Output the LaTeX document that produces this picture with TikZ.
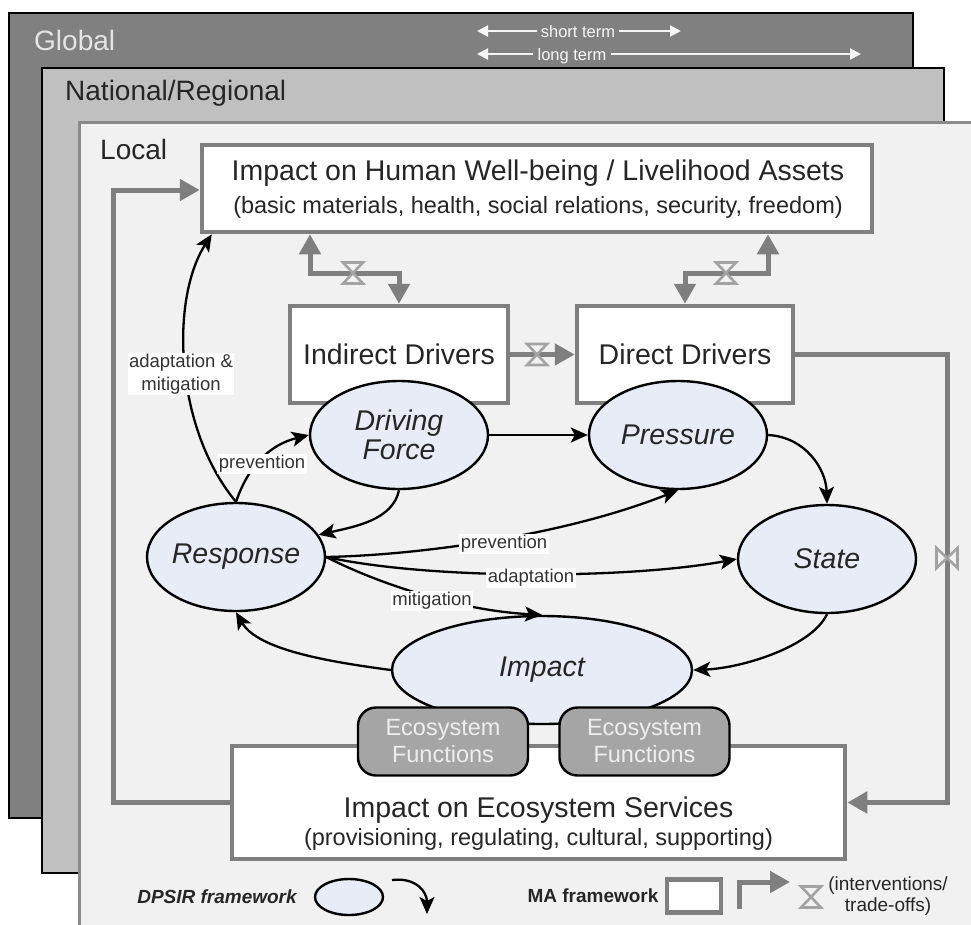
\documentclass[tikz,border=0pt]{standalone}
\usepackage{fontspec}
\setmainfont{Liberation Sans}
\usetikzlibrary{arrows.meta,shapes.geometric}

\definecolor{globalfill}{HTML}{808080}
\definecolor{globaltext}{HTML}{E4E4E4}
\definecolor{nationalfill}{HTML}{C0C0C0}
\definecolor{localfill}{HTML}{F1F1F1}
\definecolor{localedge}{HTML}{8A8A8A}
\definecolor{magray}{HTML}{7F7F7F}
\definecolor{hggray}{HTML}{A3A3A3}
\definecolor{ellfill}{HTML}{E7ECF6}
\definecolor{effill}{HTML}{A5A5A5}
\definecolor{eftext}{HTML}{EEEEEE}
\definecolor{termwhite}{HTML}{F6F6F6}
\definecolor{lbltext}{HTML}{333333}

\newcommand\FsFrame{\fontsize{28}{32}\selectfont}
\newcommand\FsBig{\fontsize{28.5}{34}\selectfont}
\newcommand\FsEll{\fontsize{28.5}{29.5}\selectfont}
\newcommand\FsSub{\fontsize{23.5}{28}\selectfont}
\newcommand\FsEF{\fontsize{23.5}{27}\selectfont}
\newcommand\FsLbl{\fontsize{18.5}{23}\selectfont}
\newcommand\FsLeg{\fontsize{19}{21}\selectfont}
\newcommand\FsTerm{\fontsize{16.5}{18}\selectfont}

\tikzset{
  txt/.style={inner sep=0pt},
  mabox/.style={rectangle, draw=magray, line width=4.5pt, fill=white, inner sep=0pt},
  dpsir/.style={ellipse, draw=black, line width=2.4pt, fill=ellfill, inner ysep=0pt,
    inner xsep=-6pt, minimum width=178pt, minimum height=108pt, font=\FsEll\itshape,
    align=center, text=black!85},
  efbox/.style={rectangle, rounded corners=18pt, draw=black, line width=2.4pt, fill=effill,
    text=eftext, minimum width=170pt, minimum height=68pt, align=center, inner sep=0pt,
    font=\FsEF},
  maline/.style={draw=magray, line width=5pt},
  maarrow/.style={maline, -{Triangle[length=20pt,width=21pt]}},
  mabi/.style={maline, {Triangle[length=20pt,width=21pt]}-{Triangle[length=20pt,width=21pt]}},
  dparrow/.style={draw=black, line width=2.3pt, -{Stealth[length=17pt,width=15pt,inset=4pt]}},
  lbl/.style={fill=white, inner xsep=1.5pt, inner ysep=1pt, font=\FsLbl, text=lbltext, align=center},
  termtext/.style={inner xsep=4pt, inner ysep=0pt, text height=12pt, text depth=0pt,
    text=termwhite, font=\FsTerm},
  termarrow/.style={draw=termwhite, line width=2pt, -{Triangle[length=11pt,width=11pt]}},
  hourglass/.pic={
    \filldraw[fill=localfill, draw=hggray, line width=2.6pt, line join=miter]
      (-10,-10.5) -- (10,-10.5) -- (-10,10.5) -- (10,10.5) -- cycle;
  },
}

\begin{document}
\begin{tikzpicture}[x=1pt,y=-1pt]
\useasboundingbox (0,0) rectangle (971,924);
\clip (0,0) rectangle (971,924);
\fill[white] (0,0) rectangle (971,924);

% nested scale frames
\filldraw[fill=globalfill, draw=black, line width=2pt] (9,13) rectangle (913,818);
\filldraw[fill=nationalfill, draw=black, line width=2pt] (42,68) rectangle (944,873);
\filldraw[fill=localfill, draw=localedge, line width=3pt] (79,122) rectangle (1000,960);

\node[txt, anchor=base west, text=globaltext, font=\FsFrame] (tglobal) at (34,50) {Global};
\node[txt, anchor=base west, font=\FsFrame, text=black!85] (tnational) at (65,100) {National/Regional};
\node[txt, anchor=base west, font=\FsFrame, text=black!85] (tlocal) at (100,159) {Local};

% time horizons
\node[termtext] (tshort) at (578,31) {short term};
\coordinate (sL) at (477,31);
\coordinate (sR) at (681,31);
\draw[termarrow] (tshort.west) -- (sL);
\draw[termarrow] (tshort.east) -- (sR);
\node[termtext] (tlong) at (572,54) {long term};
\coordinate (lL) at (477,54);
\coordinate (lR) at (861,54);
\draw[termarrow] (tlong.west) -- (lL);
\draw[termarrow] (tlong.east) -- (lR);

% MA framework boxes
\node[mabox, minimum width=670pt, minimum height=87pt] (hw) at (537,188.5) {};
\node[txt, anchor=base, font=\FsBig, text=black!85] (hwt) at (538,180) {Impact on Human Well-being / Livelihood Assets};
\node[txt, anchor=base, font=\FsSub, text=black!85] (hws) at (538,213) {(basic materials, health, social relations, security, freedom)};

\node[mabox, minimum width=218pt, minimum height=97pt, font=\FsBig, text=black!85] (idr) at (399,354.5) {Indirect Drivers};
\node[mabox, minimum width=216pt, minimum height=97pt, font=\FsBig, text=black!85] (ddr) at (685,354.5) {Direct Drivers};

\node[mabox, minimum width=613pt, minimum height=113pt] (esb) at (538.5,802.5) {};
\node[txt, anchor=base, font=\FsBig, text=black!85] (esbt) at (538.5,817) {Impact on Ecosystem Services};
\node[txt, anchor=base, font=\FsSub, text=black!85] (esbs) at (538.5,845) {(provisioning, regulating, cultural, supporting)};

% MA interactions
\coordinate (k1) at (310,273);
\coordinate (k2) at (768,273);
\coordinate (k3) at (947,354.5);
\coordinate (k4) at (113,190);
\draw[mabi] (k1 |- hw.south) -- (k1) -- (k1 -| idr.north) -- (idr.north);
\draw[mabi] (ddr.north) -- (ddr.north |- k2) -- (k2) -- (k2 |- hw.south);
\draw[maarrow] (idr.east) -- (ddr.west);
\draw[maarrow] (ddr.east) -- (k3) -- (k3 |- esb.east) -- (esb.east);
\draw[maarrow] (esb.west) -- (esb.west -| k4) -- (k4) -- (k4 -| hw.west);
\pic at (353,273) {hourglass};
\pic at (726,273) {hourglass};
\pic at (537,354.5) {hourglass};
\pic[rotate=90] at (947,558) {hourglass};

% DPSIR cycle
\node[dpsir] (df) at (399,435) {Driving\\Force};
\node[dpsir] (pr) at (678,435) {Pressure};
\node[dpsir] (rs) at (236,557) {Response};
\node[dpsir] (st) at (827,559) {State};
\node[dpsir, minimum width=300pt] (im) at (542,670) {Impact};

\draw[dparrow] (df.east) -- (pr.west);
\draw[dparrow] (pr.east) .. controls +(37,2) and +(-1,-35) .. (st.north);
\draw[dparrow] (st.south) .. controls +(-15,32) and +(50,-2) .. (im.east);
\draw[dparrow] (im.west) .. controls +(-60,-8) and +(22,38) .. (rs.south);
\draw[dparrow] (df.south) .. controls +(-6,30) and +(35,-8) .. (rs.15);
\draw[dparrow] (rs.north) .. controls +(12,-35) and +(-40,10) .. (df.west);
\draw[dparrow] (rs.north) .. controls +(-61,-73) and +(-42,66) .. ([xshift=12pt]hw.south west);
\draw[dparrow] (rs.east) .. controls +(95,-2) and +(-113,45) .. (pr.south);
\draw[dparrow] (rs.east) .. controls +(105,23) and +(-108,20) .. (st.west);
\draw[dparrow] (rs.east) .. controls +(55,28) and +(-80,-4) .. (im.north);

\node[lbl] (lprev1) at (262,464) {prevention};
\node[lbl] (ladapt) at (181,374) {adaptation \&\\mitigation};
\node[lbl] (lprev2) at (504,544) {prevention};
\node[lbl] (ladapt2) at (531,578) {adaptation};
\node[lbl] (lmitig) at (432,601) {mitigation};

% ecosystem functions
\node[efbox] (ef1) at (443,741.5) {Ecosystem\\Functions};
\node[efbox] (ef2) at (644.5,741.5) {Ecosystem\\Functions};

% legend
\node[txt, font=\FsLeg\bfseries\itshape, text=black!85] (lgdpsir) at (217,897) {DPSIR framework};
\node[dpsir, minimum width=68pt, minimum height=36pt] (lgell) at (349,897) {};
\coordinate (la1) at (392,880);
\coordinate (la2) at (427,914);
\draw[dparrow] (la1) .. controls +(24,-3) and +(0,-22) .. (la2);
\node[txt, font=\FsLeg\bfseries, text=black!85] (lgma) at (593,896) {MA framework};
\node[mabox, minimum width=54pt, minimum height=33pt] (lgbox) at (694,896) {};
\coordinate (lb1) at (739,909);
\coordinate (lb2) at (739,882);
\coordinate (lb3) at (790,882);
\draw[maarrow] (lb1) -- (lb2) -- (lb3);
\pic at (811,897) {hourglass};
\node[txt, font=\FsLeg, align=center, text=black!85] (lgint) at (888,896) {(interventions/\\trade-offs)};
\end{tikzpicture}
\end{document}
